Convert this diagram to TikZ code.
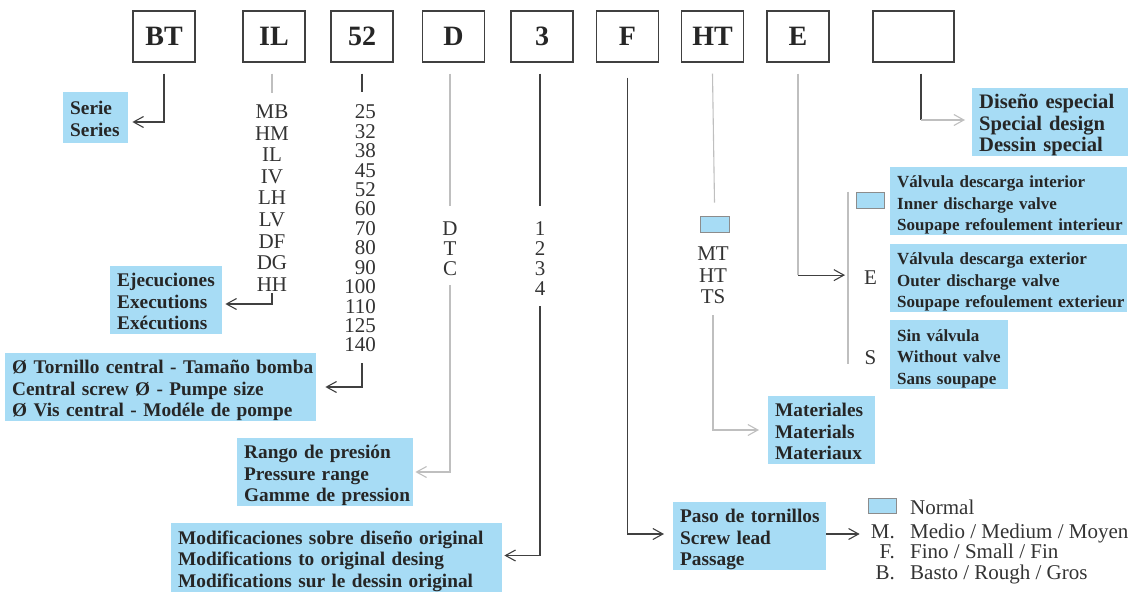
\documentclass[tikz,border=0pt]{standalone}
\usepackage{fontspec}
\setmainfont{Liberation Serif}
\usetikzlibrary{arrows.meta}

\definecolor{etiq}{HTML}{A7DCF5}
\definecolor{trazo}{gray}{0.25}
\definecolor{trazoclaro}{gray}{0.75}

% renglones sin corte
\newcommand{\renglones}[1]{\raisebox{-4pt}[\height][\depth]{\begin{tabular}{@{}l@{}}#1\end{tabular}}}

\tikzset{
  casilla/.style={draw=trazo, line width=1.2pt, minimum width=62pt,
    minimum height=51pt, inner sep=0pt, text=black!85,
    font=\bfseries\fontsize{28}{30}\selectfont},
  etiqueta/.style={fill=etiq, align=left, text width=#1, inner xsep=7pt,
    inner ysep=2pt, minimum height=68pt, anchor=west, text=black!85,
    font=\bfseries\fontsize{19.3}{21.5}\selectfont},
  chica/.style={font=\bfseries\fontsize{17}{21.4}\selectfont},
  opcion/.style={inner sep=1pt, anchor=base, text=black!80,
    font=\fontsize{21}{21.5}\selectfont},
  muestra/.style={draw=black!45, fill=etiq, line width=0.8pt,
    minimum width=28pt, minimum height=16pt, inner sep=0pt},
  guia/.style={draw=trazo, line width=1.1pt},
  guiaclara/.style={draw=trazoclaro, line width=1.1pt},
  flecha/.style={-{Straight Barb[length=10pt,width=11pt]}},
}

\begin{document}
\begin{tikzpicture}[x=1pt,y=-1pt]
  \useasboundingbox (0,0) rectangle (1141,592);
  \pgfmathsetmacro{\ycod}{36.5}

  % casillas del codigo
  \foreach \nom/\x/\txt in {bt/164/BT,il/274/IL,tam/362/52,pres/453.5/D,
      mod/542/3,paso/627.5/F,mat/712.5/HT,val/798/E}
    \node[casilla] (\nom) at (\x,\ycod) {\txt};
  \node[casilla, minimum width=81pt] (esp) at (913.5,\ycod) {};

  % etiquetas
  \node[etiqueta=51pt, minimum height=51pt] (serie) at (63,117) {\renglones{Serie\\Series}};
  \node[etiqueta=98pt] (ejec) at (110,300) {\renglones{Ejecuciones\\Executions\\Exécutions}};
  \node[etiqueta=297pt] (torn) at (5,387)
    {\renglones{Ø Tornillo central - Tamaño bomba\\Central screw Ø - Pumpe size\\Ø Vis central - Modéle de pompe}};
  \node[etiqueta=162pt] (rango) at (237,472) {\renglones{Rango de presión\\Pressure range\\Gamme de pression}};
  \node[etiqueta=317pt] (modif) at (171,557.5)
    {\renglones{Modificaciones sobre diseño original\\Modifications to original desing\\Modifications sur le dessin original}};
  \node[etiqueta=142pt, font=\bfseries\fontsize{20.6}{21.5}\selectfont] (disen) at (972,122)
    {\renglones{Diseño especial\\Special design\\Dessin special}};
  \node[etiqueta=223pt, chica] (vint) at (890,201)
    {\renglones{Válvula descarga interior\\Inner discharge valve\\Soupape refoulement interieur}};
  \node[etiqueta=223pt, chica] (vext) at (890,278)
    {\renglones{Válvula descarga exterior\\Outer discharge valve\\Soupape refoulement exterieur}};
  \node[etiqueta=104pt, chica] (sinv) at (890,354.5) {\renglones{Sin válvula\\Without valve\\Sans soupape}};
  \node[etiqueta=93pt] (mats) at (768,430) {\renglones{Materiales\\Materials\\Materiaux}};
  \node[etiqueta=139pt] (pasos) at (673,536) {\renglones{Paso de tornillos\\Screw lead\\Passage}};

  % listas de opciones
  \foreach \txt [count=\i] in {MB,HM,IL,IV,LH,LV,DF,DG,HH}
    \node[opcion] (ej\i) at (272,{118.7+21.55*(\i-1)}) {\txt};
  \foreach \txt [count=\i] in {25,32,38,45,52,60,70,80,90,100,110,125,140}
    \node[opcion, anchor=base east] (ta\i) at (377,{118.7+19.44*(\i-1)}) {\txt};
  \foreach \txt [count=\i] in {D,T,C}
    \node[opcion] (pr\i) at (450,{235+20*(\i-1)}) {\txt};
  \foreach \txt [count=\i] in {1,2,3,4}
    \node[opcion] (mo\i) at (540,{235+20*(\i-1)}) {\txt};

  \node[muestra, minimum width=29pt] (mt0) at (714.5,224) {};
  \foreach \txt/\y [count=\i] in {MT/260,HT/282,TS/303}
    \node[opcion] (mt\i) at (713,\y) {\txt};

  \node[muestra] (vi) at (870,200) {};
  \node[opcion] (ve) at (870.5,284) {E};
  \node[opcion] (vs) at (870.5,364) {S};

  \node[muestra, minimum height=15pt] (ln) at (882,505.5) {};
  \node[opcion, anchor=base west] (lnt) at (909,514) {Normal};
  \foreach \nom/\ltr/\txt/\y in {lm/M./{Medio / Medium / Moyen}/538,
      lf/F./{Fino / Small / Fin}/558.5,lb/B./{Basto / Rough / Gros}/579} {
    \node[opcion, anchor=base east] (\nom) at (896,\y) {\ltr};
    \node[opcion, anchor=base west] (\nom t) at (909,\y) {\txt};
  }

  % guias
  \draw[guia, flecha] ([yshift=-11pt]bt.south) |- ([xshift=4pt,yshift=-5pt]serie.east);

  \draw[guiaclara] ([yshift=-11pt]il.south -| ej1.north) -- ([yshift=11pt]ej1.north);
  \draw[guia, flecha] ([yshift=-1pt]ej9.south) |- ([xshift=3pt,yshift=-4pt]ejec.east);

  \draw[guia] ([yshift=-11pt]tam.south) -- ([yshift=12pt]ta1.north -| tam.south);
  \draw[guia, flecha] ([yshift=-10pt]ta13.south -| tam.south) |- ([xshift=9pt]torn.east);

  \draw[guiaclara] ([yshift=-11pt]pres.south -| pr1.north) -- ([yshift=14pt]pr1.north);
  \draw[guiaclara, flecha] ([yshift=-9pt]pr3.south) |- ([xshift=2pt]rango.east);

  \draw[guia] ([yshift=-11pt]mod.south -| mo1.north) -- ([yshift=14pt]mo1.north);
  \draw[guia, flecha] ([yshift=-10pt]mo4.south) |- ([xshift=2pt,yshift=2pt]modif.east);

  \draw[guia, flecha] ([yshift=-15pt]paso.south) |- ([xshift=-9pt,yshift=2pt]pasos.west);
  \draw[guia, flecha] ([yshift=2pt]pasos.east) -- ([xshift=-10pt,yshift=2pt]lm.west |- pasos.east);

  \draw[guiaclara] ([yshift=-11pt]mat.south) -- ([yshift=13pt]mt0.north);
  \draw[guiaclara, flecha] ([yshift=-11pt]mt3.south) |- ([xshift=-9pt]mats.west);

  \coordinate (barra1) at ([xshift=-22pt]vi.north);
  \coordinate (barra2) at ([xshift=-22.5pt]vs.base);
  \draw[guiaclara] (barra1) -- (barra2);
  \coordinate (codo) at ([yshift=2pt]val.south |- ve);
  \draw[guiaclara] ([yshift=-11pt]val.south) -- (codo);
  \draw[guia, flecha] (codo) -- ([xshift=-3pt,yshift=2pt]barra1 |- ve);

  \coordinate (esq) at ([xshift=7.5pt,yshift=2pt]esp.south |- disen.west);
  \draw[guia] ([xshift=7.5pt,yshift=-11pt]esp.south) -- (esq);
  \draw[guiaclara, flecha] (esq) -- ([xshift=-7pt,yshift=2pt]disen.west);
\end{tikzpicture}
\end{document}
